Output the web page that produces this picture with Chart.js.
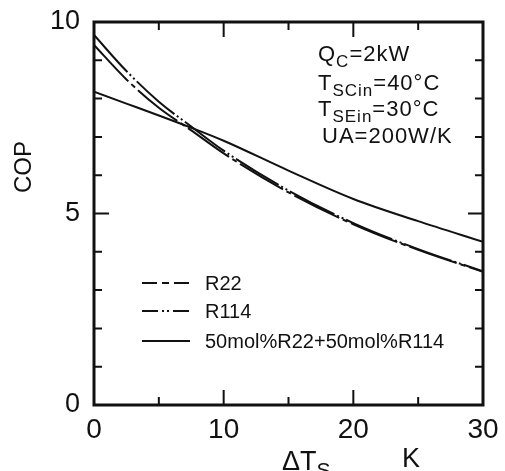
<!DOCTYPE html>
<html>
<head>
<meta charset="utf-8">
<script src="https://cdn.jsdelivr.net/npm/chart.js@4.4.1/dist/chart.umd.min.js"></script>
<style>
  html, body { margin: 0; padding: 0; background: #fff; }
  canvas { display: block; }
</style>
</head>
<body>
<canvas id="cop" width="505" height="471"></canvas>
<script>
// ── DATA ──
const dT       = [0, 2.5, 5, 7.5, 10, 15, 20, 25, 30];          // ΔTs, K
const copR22   = [9.40, 8.50, 7.76, 7.17, 6.57, 5.55, 4.72, 4.05, 3.48];
const copR114  = [9.66, 8.72, 7.92, 7.27, 6.64, 5.60, 4.75, 4.07, 3.49];
const copMix   = [8.18, 7.87, 7.56, 7.24, 6.90, 6.12, 5.38, 4.80, 4.26];
const seriesNames = ['R22', 'R114', '50mol%R22+50mol%R114'];
const xTickLabels = [0, 10, 20, 30];
const yTickLabels = [0, 5, 10];
// [main, subscript, rest]
const conditions = [
  ['Q', 'C', '=2kW'],
  ['T', 'SCin', '=40°C'],
  ['T', 'SEin', '=30°C'],
  ['UA', '', '=200W/K'],
];

const FONT = "'Liberation Sans', Arial, sans-serif";
const INK = '#111';

const plotDash   = [[50, 4, 5, 4], [50, 3, 2, 3, 2, 3], []];
const legendDash = [[15, 5, 7, 5, 15], [16, 4, 2, 3, 2, 4, 16], []];

function subText(ctx, x, y, parts, size, subSize) {
  const [main, sub, rest] = parts;
  ctx.font = `${size}px ${FONT}`;
  ctx.fillText(main, x, y);
  x += ctx.measureText(main).width;
  if (sub) {
    ctx.font = `${subSize}px ${FONT}`;
    ctx.fillText(sub, x, y + size * 0.25);
    x += ctx.measureText(sub).width;
  }
  ctx.font = `${size}px ${FONT}`;
  ctx.fillText(rest, x, y);
}

// ── frame, inward ticks, legend and notes ──
const decorPlugin = {
  id: 'decor',
  afterDatasetsDraw(chart) {
    const { ctx, chartArea: a, scales: { x, y } } = chart;
    ctx.save();
    ctx.strokeStyle = INK;
    ctx.fillStyle = INK;

    // inward ticks
    ctx.lineWidth = 2;
    y.ticks.forEach(t => {
      if (t.value <= 0 || t.value >= 10) return;
      const py = y.getPixelForValue(t.value);
      const len = t.value % 5 === 0 ? 15 : 8;
      ctx.beginPath();
      ctx.moveTo(a.left, py); ctx.lineTo(a.left + len, py);
      ctx.moveTo(a.right, py); ctx.lineTo(a.right - len, py);
      ctx.stroke();
    });
    x.ticks.forEach(t => {
      if (t.value <= 0 || t.value >= 30) return;
      const px = x.getPixelForValue(t.value);
      const len = t.value % 10 === 0 ? 15 : 8;
      ctx.beginPath();
      ctx.moveTo(px, a.bottom); ctx.lineTo(px, a.bottom - len);
      ctx.moveTo(px, a.top); ctx.lineTo(px, a.top + len);
      ctx.stroke();
    });

    // frame
    ctx.lineWidth = 3;
    ctx.strokeRect(a.left, a.top, a.right - a.left, a.bottom - a.top);

    // legend
    const rows = [283, 311, 341];
    ctx.lineWidth = 2;
    seriesNames.forEach((name, i) => {
      ctx.setLineDash(legendDash[i]);
      ctx.beginPath();
      ctx.moveTo(a.left + 48, rows[i]);
      ctx.lineTo(a.left + 96, rows[i]);
      ctx.stroke();
      ctx.setLineDash([]);
      ctx.font = `20px ${FONT}`;
      ctx.textBaseline = 'middle';
      ctx.fillText(name, a.left + 111, rows[i] + 1);
    });

    // operating conditions
    ctx.textBaseline = 'alphabetic';
    ctx.letterSpacing = '1px';
    const noteY = [61, 90, 116, 143];
    conditions.forEach((c, i) => {
      subText(ctx, i === 3 ? 322 : 318, noteY[i], c, 22, 17);
    });
    ctx.letterSpacing = '0px';

    // axis titles
    ctx.font = `27px ${FONT}`;
    subText(ctx, 282, 470, ['ΔT', 'S', ''], 27, 21);
    ctx.fillText('K', 402, 467);

    ctx.translate(24, 167);
    ctx.rotate(-Math.PI / 2);
    ctx.font = `24px ${FONT}`;
    ctx.textAlign = 'center';
    ctx.textBaseline = 'middle';
    ctx.fillText('COP', 0, 0);
    ctx.restore();
  }
};

const lineSet = (label, data, i) => ({
  label,
  data: dT.map((v, k) => ({ x: v, y: data[k] })),
  borderColor: INK,
  borderWidth: 2,
  borderDash: plotDash[i],
  pointRadius: 0,
  cubicInterpolationMode: 'monotone',
  fill: false,
});

new Chart(document.getElementById('cop'), {
  type: 'line',
  data: {
    datasets: [
      lineSet(seriesNames[0], copR22, 0),
      lineSet(seriesNames[1], copR114, 1),
      lineSet(seriesNames[2], copMix, 2),
    ],
  },
  options: {
    responsive: false,
    animation: false,
    devicePixelRatio: 1,
    layout: { padding: { top: 22, right: 22, left: 0, bottom: 0 } },
    plugins: { legend: { display: false }, tooltip: { enabled: false } },
    scales: {
      x: {
        type: 'linear', min: 0, max: 30,
        grid: { display: false }, border: { display: false },
        ticks: {
          stepSize: 5, autoSkip: false, maxRotation: 0, padding: 0,
          color: INK, font: { family: FONT, size: 28 },
          callback: v => xTickLabels.includes(v) ? String(v) : '',
        },
        afterFit: s => { s.height = 66; s.paddingLeft = 0; s.paddingRight = 0; },
      },
      y: {
        type: 'linear', min: 0, max: 10,
        grid: { display: false }, border: { display: false },
        ticks: {
          stepSize: 1, autoSkip: false, padding: 6,
          color: INK, font: { family: FONT, size: 27 },
          callback: v => yTickLabels.includes(v) ? String(v) : '',
        },
        afterFit: s => { s.width = 94; s.paddingTop = 0; s.paddingBottom = 0; },
      },
    },
  },
  plugins: [decorPlugin],
});
</script>
</body>
</html>
